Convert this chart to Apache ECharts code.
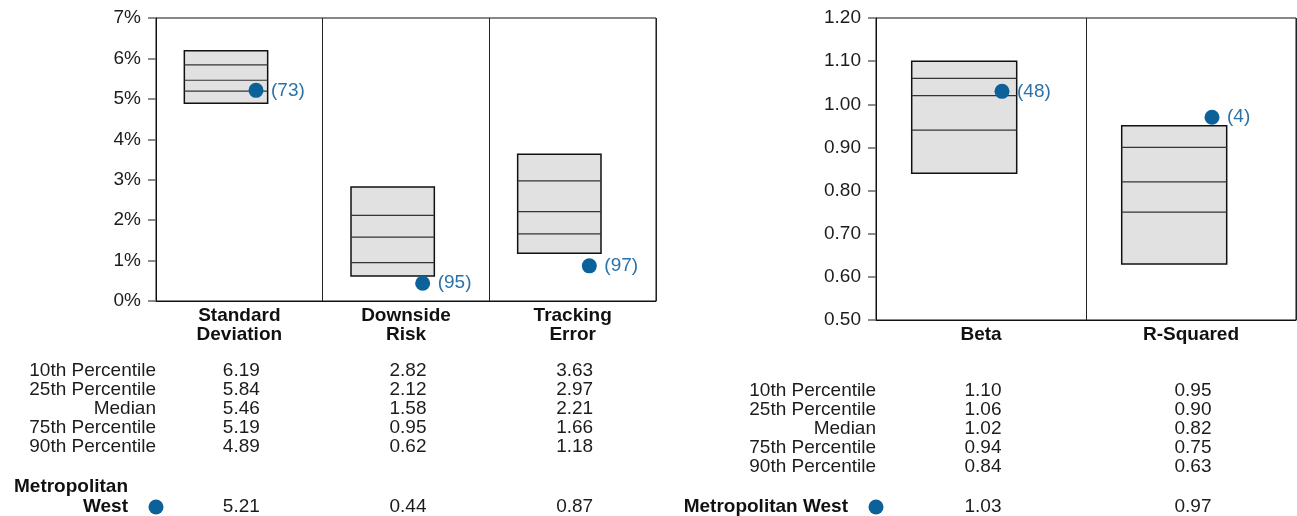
<!DOCTYPE html>
<html>
<head>
<meta charset="utf-8">
<script src="https://cdn.jsdelivr.net/npm/echarts@6/dist/echarts.min.js"></script>
<style>
html,body{margin:0;padding:0;background:#fff;}
#main{width:1297px;height:516px;}
</style>
</head>
<body>
<div id="main"></div>
<script>
// ---- Data ----
const riskCategories = ['Standard\nDeviation', 'Downside\nRisk', 'Tracking\nError'];
const riskP10 = [6.19, 2.82, 3.63];
const riskP25 = [5.84, 2.12, 2.97];
const riskMedian = [5.46, 1.58, 2.21];
const riskP75 = [5.19, 0.95, 1.66];
const riskP90 = [4.89, 0.62, 1.18];
const riskFund = [5.21, 0.44, 0.87];
const riskRank = [73, 95, 97];
const riskTicks = ['0%', '1%', '2%', '3%', '4%', '5%', '6%', '7%'];

const regCategories = ['Beta', 'R-Squared'];
const regP10 = [1.10, 0.95];
const regP25 = [1.06, 0.90];
const regMedian = [1.02, 0.82];
const regP75 = [0.94, 0.75];
const regP90 = [0.84, 0.63];
const regFund = [1.03, 0.97];
const regRank = [48, 4];
const regTicks = ['0.50', '0.60', '0.70', '0.80', '0.90', '1.00', '1.10', '1.20'];

const rowLabels = ['10th Percentile', '25th Percentile', 'Median', '75th Percentile', '90th Percentile'];
const fundName = 'Metropolitan West';

// ---- Styles ----
const FONT = '"Liberation Sans", Arial, Helvetica, sans-serif';
const FS = 19;
const DOT = '#0d6199';
const DOT_TEXT = '#2a72a8';
const TXT = '#1c1c1c';

function boxData(p10, p25, med, p75, p90) {
  return p10.map((v, i) => [i, v, p25[i], med[i], p75[i], p90[i]]);
}
function fundData(fund, rank) {
  return fund.map((v, i) => [i, v, rank[i]]);
}

function renderBox(params, api) {
  const i = api.value(0);
  const bw = api.size([1, 0])[0];
  const top = api.coord([i, api.value(1)]);
  const bot = api.coord([i, api.value(5)]);
  const x0 = top[0] - 0.33 * bw;
  const w = 0.5 * bw;
  const children = [{
    type: 'rect',
    shape: { x: x0, y: top[1], width: w, height: bot[1] - top[1] },
    style: { fill: '#e1e1e1', stroke: '#111', lineWidth: 1.5 }
  }];
  [2, 3, 4].forEach(k => {
    const y = api.coord([i, api.value(k)])[1];
    children.push({
      type: 'line',
      shape: { x1: x0, y1: y, x2: x0 + w, y2: y },
      style: { stroke: '#333', lineWidth: 1.2 }
    });
  });
  return { type: 'group', children };
}

function renderFund(params, api) {
  const i = api.value(0);
  const bw = api.size([1, 0])[0];
  const p = api.coord([i, api.value(1)]);
  const cx = p[0] + 0.1 * bw;
  return {
    type: 'group',
    children: [{
      type: 'circle',
      shape: { cx: cx, cy: p[1], r: 7.5 },
      style: { fill: DOT }
    }, {
      type: 'text',
      style: {
        x: cx + 15, y: p[1],
        text: '(' + api.value(2) + ')',
        fill: DOT_TEXT, font: FS + 'px ' + FONT,
        textAlign: 'left', textVerticalAlign: 'middle'
      }
    }]
  };
}

const chart = echarts.init(document.getElementById('main'));

function yAxisCfg(gridIndex, min, max, interval, fmt) {
  return {
    type: 'value', gridIndex, min, max, interval,
    axisLine: { show: true, lineStyle: { color: '#111', width: 1 } },
    axisTick: { show: true, length: 8, lineStyle: { color: '#666', width: 1.5 } },
    axisLabel: { color: TXT, fontSize: FS, fontFamily: FONT, margin: 15, formatter: fmt },
    splitLine: { show: false }
  };
}
function xAxisCfg(gridIndex, cats) {
  return {
    type: 'category', gridIndex, data: cats,
    axisLine: { show: true, lineStyle: { color: '#111', width: 1 } },
    axisTick: { show: false },
    axisLabel: { color: '#111', fontSize: FS, fontWeight: 'bold', fontFamily: FONT, lineHeight: 19, margin: 5, interval: 0 },
    splitLine: { show: true, lineStyle: { color: '#222', width: 1 } }
  };
}

chart.setOption({
  animation: false,
  backgroundColor: '#fff',
  grid: [
    { left: 156, top: 18, width: 500, height: 283, show: true, borderColor: '#111', borderWidth: 1, backgroundColor: 'transparent' },
    { left: 876, top: 18, width: 420, height: 302, show: true, borderColor: '#111', borderWidth: 1, backgroundColor: 'transparent' }
  ],
  xAxis: [xAxisCfg(0, riskCategories), xAxisCfg(1, regCategories)],
  yAxis: [
    yAxisCfg(0, 0, 7, 1, v => riskTicks[Math.round(v)]),
    yAxisCfg(1, 0.5, 1.2, 0.1, v => regTicks[Math.round((v - 0.5) * 10)])
  ],
  series: [
    { type: 'custom', name: 'Peer range', xAxisIndex: 0, yAxisIndex: 0, renderItem: renderBox,
      data: boxData(riskP10, riskP25, riskMedian, riskP75, riskP90), z: 2 },
    { type: 'custom', name: fundName, xAxisIndex: 0, yAxisIndex: 0, renderItem: renderFund,
      data: fundData(riskFund, riskRank), z: 3 },
    { type: 'custom', name: 'Peer range', xAxisIndex: 1, yAxisIndex: 1, renderItem: renderBox,
      data: boxData(regP10, regP25, regMedian, regP75, regP90), z: 2 },
    { type: 'custom', name: fundName, xAxisIndex: 1, yAxisIndex: 1, renderItem: renderFund,
      data: fundData(regFund, regRank), z: 3 }
  ]
});

// ---- Tables below the charts ----
function buildTable(xAxisIndex, cats, cols, fund, labelRight, rowTop, fundY, twoLineName) {
  const els = [];
  const font = FS + 'px ' + FONT;
  const bold = 'bold ' + FS + 'px ' + FONT;
  rowLabels.forEach((lab, r) => {
    els.push({ type: 'text', style: { x: labelRight, y: rowTop + r * 19, text: lab, font, fill: TXT, textAlign: 'right', textVerticalAlign: 'middle' } });
  });
  cats.forEach((c, i) => {
    const x = chart.convertToPixel({ xAxisIndex }, i) + 2;
    cols.forEach((arr, r) => {
      els.push({ type: 'text', style: { x, y: rowTop + r * 19, text: arr[i].toFixed(2), font, fill: TXT, textAlign: 'center', textVerticalAlign: 'middle' } });
    });
    els.push({ type: 'text', style: { x, y: fundY, text: fund[i].toFixed(2), font, fill: TXT, textAlign: 'center', textVerticalAlign: 'middle' } });
  });
  if (twoLineName) {
    els.push({ type: 'text', style: { x: labelRight - 28, y: fundY - 20, text: 'Metropolitan', font: bold, fill: '#111', textAlign: 'right', textVerticalAlign: 'middle' } });
    els.push({ type: 'text', style: { x: labelRight - 28, y: fundY, text: 'West', font: bold, fill: '#111', textAlign: 'right', textVerticalAlign: 'middle' } });
  } else {
    els.push({ type: 'text', style: { x: labelRight - 28, y: fundY, text: fundName, font: bold, fill: '#111', textAlign: 'right', textVerticalAlign: 'middle' } });
  }
  els.push({ type: 'circle', shape: { cx: labelRight, cy: fundY, r: 7.5 }, style: { fill: DOT } });
  return els;
}

const graphics = []
  .concat(buildTable(0, riskCategories, [riskP10, riskP25, riskMedian, riskP75, riskP90], riskFund, 156, 371, 507, true))
  .concat(buildTable(1, regCategories, [regP10, regP25, regMedian, regP75, regP90], regFund, 876, 391, 507, false));

chart.setOption({ graphic: graphics });
</script>
</body>
</html>
